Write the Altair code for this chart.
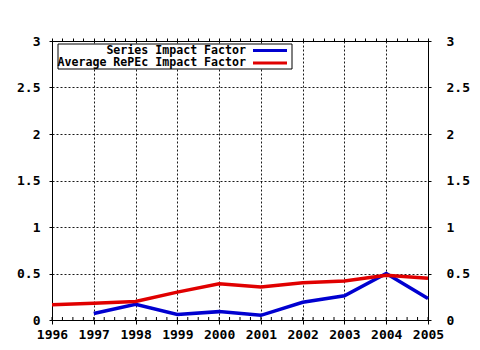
import altair as alt
import pandas as pd

years = [1996, 1997, 1998, 1999, 2000, 2001, 2002, 2003, 2004, 2005]
series_if = [None, 0.07, 0.17, 0.06, 0.09, 0.05, 0.19, 0.26, 0.50, 0.23]
repec_if = [0.165, 0.18, 0.20, 0.30, 0.39, 0.355, 0.40, 0.42, 0.48, 0.45]
legend_labels = ["Series Impact Factor", "Average RePEc Impact Factor"]
colors = ["#0000d0", "#e00000"]
y_ticks = [0, 0.5, 1, 1.5, 2, 2.5, 3]
minor_x = [1996 + i * 0.25 for i in range(37)]

FONT = "DejaVu Sans Mono"
W, H = 376, 279

df_blue = pd.DataFrame({"year": years, "v": series_if}).dropna()
df_red = pd.DataFrame({"year": years, "v": repec_if})

xs = alt.Scale(domain=[1996, 2005], nice=False, zero=False)
ys = alt.Scale(domain=[0, 3], nice=False)

ax_common = dict(labelFont=FONT, labelFontWeight="bold", labelFontSize=13,
                 labelColor="black", domainColor="black", tickColor="black",
                 gridColor="black", gridDash=[2, 2], gridOpacity=0.9, title=None)

blue = alt.Chart(df_blue).mark_line(color=colors[0], strokeWidth=3.5).encode(
    x=alt.X("year:Q", scale=xs,
            axis=alt.Axis(values=years, format="d", orient="bottom", grid=True,
                          tickSize=4, labelPadding=4, labelFlush=False, **ax_common)),
    y=alt.Y("v:Q", scale=ys,
            axis=alt.Axis(values=y_ticks, format="~g", orient="left", grid=True, tickSize=3,
                          labelPadding=9, **ax_common)),
)

red = alt.Chart(df_red).mark_line(color=colors[1], strokeWidth=3.5).encode(
    x=alt.X("year:Q", scale=xs,
            axis=alt.Axis(values=minor_x, orient="top", grid=False, labels=False,
                          tickSize=3, **ax_common)),
    y=alt.Y("v:Q", scale=ys,
            axis=alt.Axis(values=y_ticks, format="~g", orient="right", grid=False, tickSize=3,
                          labelPadding=15, labelAlign="left", **ax_common)),
)

minor = alt.Chart(pd.DataFrame({"year": minor_x})).mark_rule(color="black", strokeWidth=1).encode(
    x=alt.X("year:Q", scale=xs, axis=None),
    y=alt.value(H), y2=alt.value(H - 3),
)

leg_df = pd.DataFrame({"label": legend_labels, "color": colors, "row": [0, 1]})
box = alt.Chart(pd.DataFrame({"a": [0]})).mark_rect(fill="white", stroke="black", strokeWidth=1).encode(
    x=alt.value(6), x2=alt.value(240), y=alt.value(3), y2=alt.value(28))
txt = dict(align="right", baseline="middle", font=FONT, fontWeight="bold", fontSize=11.6, color="black")
leg_text_1 = alt.Chart(leg_df.iloc[[0]]).mark_text(**txt).encode(
    text="label:N", x=alt.value(194), y=alt.value(9.5))
leg_text_2 = alt.Chart(leg_df.iloc[[1]]).mark_text(**txt).encode(
    text="label:N", x=alt.value(194), y=alt.value(22))
leg_line_1 = alt.Chart(leg_df.iloc[[0]]).mark_rule(color=colors[0], strokeWidth=3).encode(
    x=alt.value(201), x2=alt.value(235), y=alt.value(9.5))
leg_line_2 = alt.Chart(leg_df.iloc[[1]]).mark_rule(color=colors[1], strokeWidth=3).encode(
    x=alt.value(201), x2=alt.value(235), y=alt.value(22))

chart = alt.layer(blue, red, minor, box, leg_text_1, leg_text_2, leg_line_1, leg_line_2).resolve_axis(
    x="independent", y="independent"
).properties(
    width=W, height=H,
    autosize=alt.AutoSizeParams(type="none"),
    padding={"left": 52, "top": 41, "right": 52, "bottom": 30},
    background="white",
).configure_view(stroke="black", strokeWidth=1)

chart.save("out.html", embed_options={"renderer": "svg", "actions": False})
